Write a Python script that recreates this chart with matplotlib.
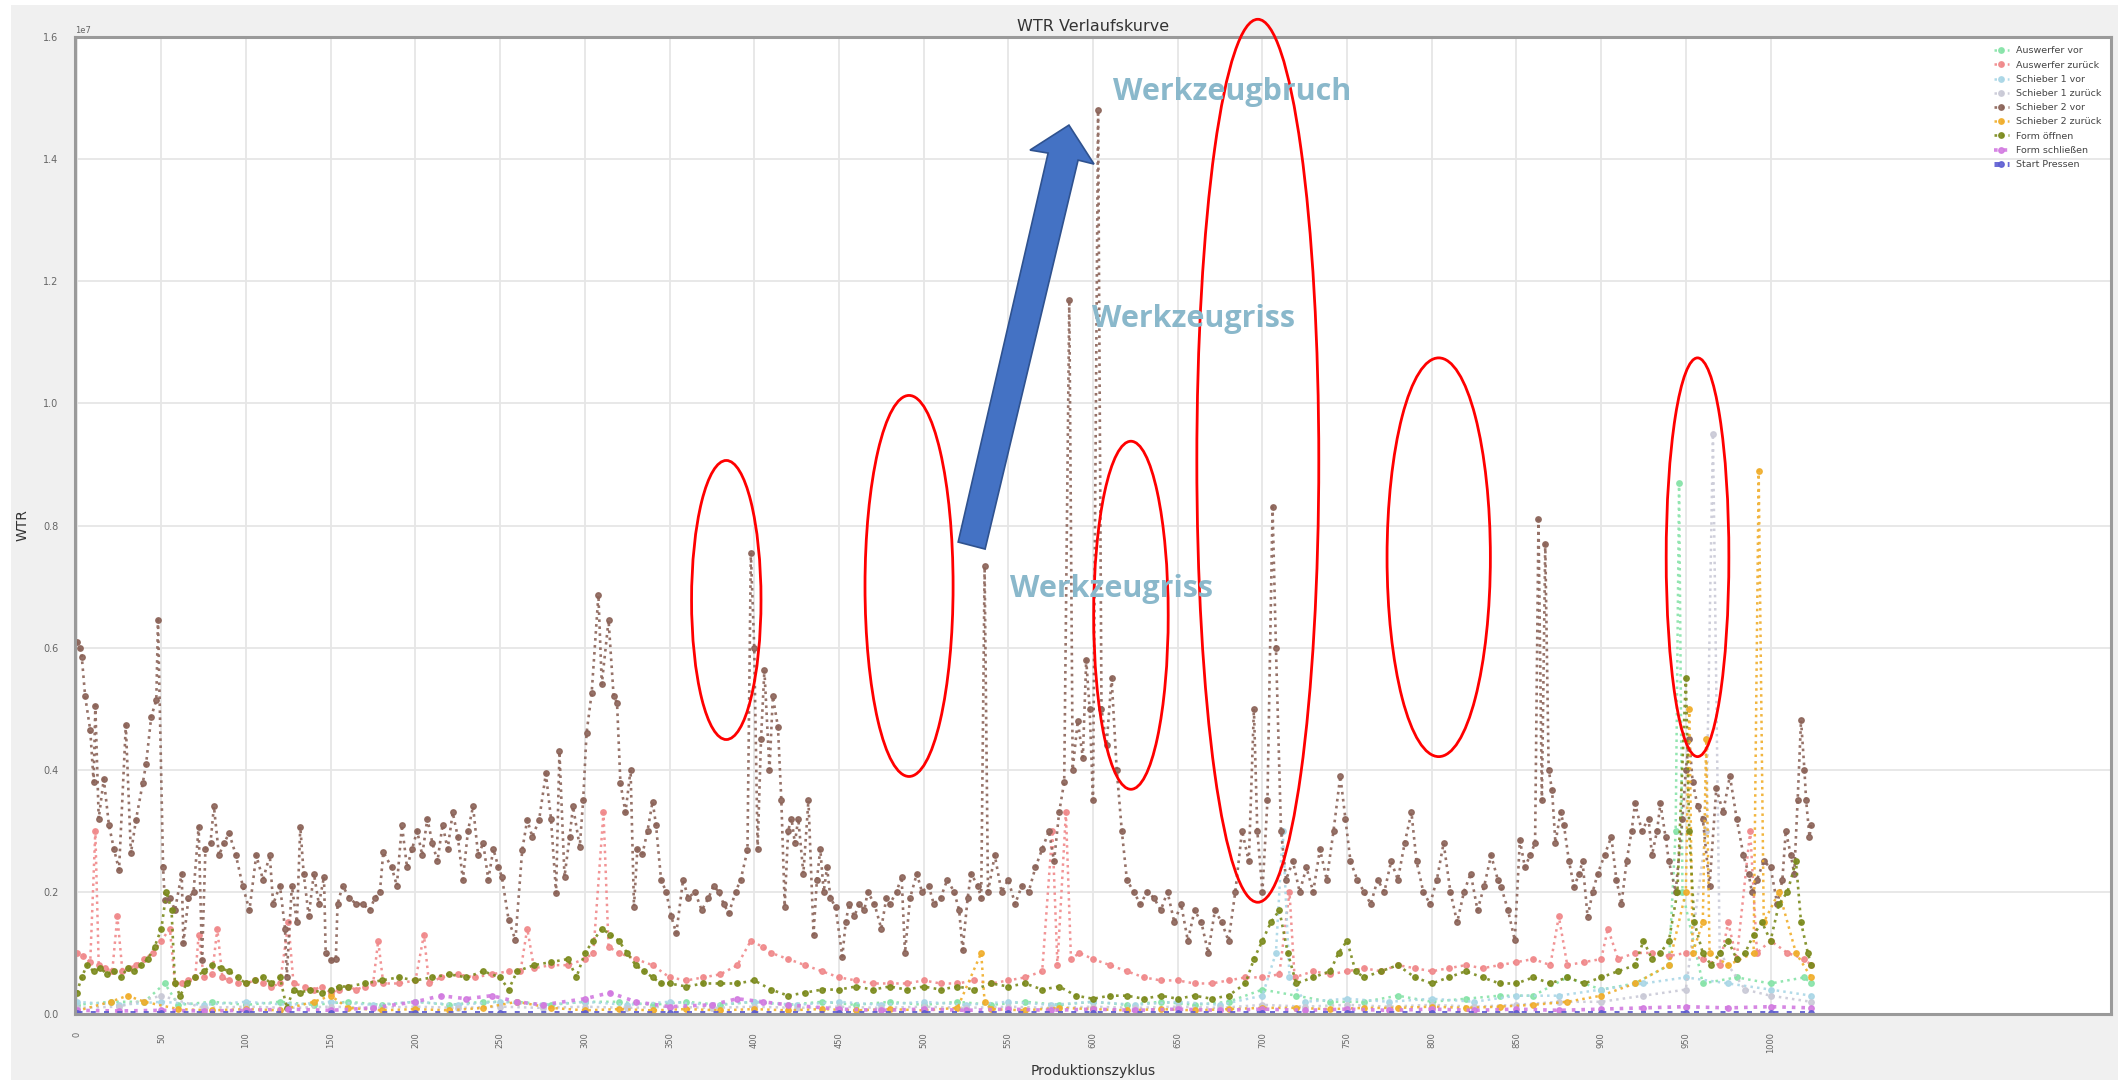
import numpy as np
import matplotlib
matplotlib.use("Agg")
import matplotlib.pyplot as plt
from matplotlib.patches import Ellipse, Polygon, Rectangle

# WTR values are given in units of 1e7
series_names = ["Auswerfer vor", "Auswerfer zurück", "Schieber 1 vor", "Schieber 1 zurück",
                "Schieber 2 vor", "Schieber 2 zurück", "Form öffnen", "Form schließen", "Start Pressen"]
series_colors = ["#86e3a8", "#f0888a", "#a9d6e6", "#c9c9d6",
                 "#8b6358", "#f0ad2a", "#7b8a1c", "#d27ae0", "#5c5cd2"]
series_lw = [1.8, 1.8, 1.8, 1.8, 1.9, 1.8, 1.9, 2.6, 3.6]

# Schieber 2 vor
s2v_cyc = [0, 2, 3, 5, 8, 10, 11, 13, 16, 19, 22, 25, 29, 32, 35, 39, 41, 44, 47, 48,
           51, 52, 55, 58, 62, 63, 66, 69, 72, 74, 76, 79, 81, 84, 87, 90, 94, 98, 102, 106,
           110, 114, 116, 120, 123, 124, 127, 130, 132, 134, 137, 140, 143, 146, 147, 150, 153, 154, 157, 161,
           165, 169, 173, 176, 179, 181, 186, 189, 192, 195, 198, 201, 204, 207, 210, 213, 216, 219, 222, 225,
           228, 231, 234, 237, 240, 243, 246, 249, 251, 255, 259, 263, 266, 269, 273, 277, 280, 283, 285, 288,
           291, 293, 297, 299, 301, 304, 308, 310, 314, 317, 319, 321, 324, 327, 329, 331, 334, 337, 340, 342,
           345, 348, 351, 354, 358, 361, 365, 369, 373, 376, 379, 382, 385, 389, 392, 396, 398, 400, 402, 404,
           406, 409, 411, 414, 416, 418, 420, 422, 424, 426, 429, 432, 435, 437, 439, 441, 443, 445, 448, 452,
           454, 456, 459, 462, 465, 467, 471, 475, 478, 480, 484, 487, 489, 492, 496, 499, 503, 506, 510, 514,
           518, 521, 523, 526, 528, 532, 534, 536, 538, 542, 546, 550, 554, 558, 562, 566, 570, 574, 577, 580,
           583, 586, 588, 591, 594, 596, 598, 600, 603, 605, 608, 611, 614, 617, 620, 624, 628, 632, 636, 640,
           644, 648, 652, 656, 660, 664, 668, 672, 676, 680, 684, 688, 692, 695, 697, 700, 703, 706, 708, 711,
           714, 718, 722, 726, 730, 734, 738, 742, 746, 749, 752, 756, 760, 764, 768, 772, 776, 780, 784, 788,
           791, 795, 799, 803, 807, 811, 815, 819, 823, 827, 831, 835, 839, 841, 845, 849, 852, 855, 858, 861,
           863, 865, 867, 869, 871, 873, 876, 878, 881, 884, 887, 889, 892, 895, 898, 902, 906, 909, 912, 915,
           918, 920, 924, 928, 930, 933, 935, 938, 940, 944, 948, 950, 952, 954, 957, 960, 964, 968, 972, 976,
           980, 984, 987, 989, 992, 996, 1000, 1004, 1007, 1009, 1012, 1014, 1016, 1018, 1020, 1021, 1023, 1024]
s2v_val = [0.61, 0.60, 0.585, 0.52, 0.465, 0.38, 0.505, 0.32, 0.385, 0.31, 0.27, 0.236, 0.473, 0.263, 0.318, 0.378, 0.41, 0.487, 0.514, 0.645,
           0.241, 0.187, 0.19, 0.17, 0.23, 0.116, 0.19, 0.20, 0.307, 0.088, 0.27, 0.28, 0.34, 0.26, 0.28, 0.296, 0.26, 0.21, 0.17, 0.26,
           0.22, 0.26, 0.18, 0.21, 0.14, 0.061, 0.21, 0.15, 0.307, 0.23, 0.16, 0.23, 0.18, 0.225, 0.10, 0.088, 0.09, 0.18, 0.21, 0.19,
           0.18, 0.18, 0.17, 0.19, 0.20, 0.265, 0.24, 0.21, 0.31, 0.24, 0.27, 0.30, 0.26, 0.32, 0.28, 0.25, 0.31, 0.27, 0.33, 0.29,
           0.22, 0.30, 0.34, 0.26, 0.28, 0.22, 0.27, 0.24, 0.225, 0.154, 0.121, 0.268, 0.318, 0.29, 0.318, 0.394, 0.32, 0.198, 0.43, 0.225,
           0.29, 0.34, 0.274, 0.35, 0.46, 0.525, 0.686, 0.54, 0.645, 0.52, 0.51, 0.378, 0.33, 0.40, 0.176, 0.27, 0.262, 0.30, 0.348, 0.31,
           0.22, 0.20, 0.16, 0.132, 0.22, 0.19, 0.20, 0.17, 0.19, 0.21, 0.20, 0.18, 0.165, 0.20, 0.22, 0.268, 0.755, 0.60, 0.27, 0.45,
           0.563, 0.40, 0.52, 0.47, 0.35, 0.176, 0.30, 0.32, 0.28, 0.32, 0.23, 0.35, 0.13, 0.22, 0.27, 0.20, 0.24, 0.19, 0.175, 0.094,
           0.15, 0.18, 0.16, 0.18, 0.17, 0.20, 0.18, 0.14, 0.19, 0.18, 0.20, 0.225, 0.10, 0.19, 0.23, 0.20, 0.21, 0.18, 0.19, 0.22,
           0.20, 0.17, 0.105, 0.19, 0.23, 0.21, 0.19, 0.733, 0.20, 0.26, 0.20, 0.22, 0.18, 0.21, 0.20, 0.24, 0.27, 0.30, 0.25, 0.33,
           0.38, 1.17, 0.40, 0.48, 0.42, 0.58, 0.50, 0.35, 1.48, 0.50, 0.44, 0.55, 0.40, 0.30, 0.22, 0.20, 0.18, 0.20, 0.19, 0.17,
           0.20, 0.15, 0.18, 0.12, 0.17, 0.15, 0.10, 0.17, 0.15, 0.12, 0.20, 0.30, 0.25, 0.50, 0.30, 0.20, 0.35, 0.83, 0.60, 0.30,
           0.22, 0.25, 0.20, 0.24, 0.20, 0.27, 0.22, 0.30, 0.39, 0.32, 0.25, 0.22, 0.20, 0.18, 0.22, 0.20, 0.25, 0.22, 0.28, 0.33,
           0.25, 0.20, 0.18, 0.22, 0.28, 0.20, 0.15, 0.20, 0.23, 0.17, 0.21, 0.26, 0.22, 0.208, 0.17, 0.121, 0.285, 0.24, 0.26, 0.28,
           0.81, 0.35, 0.77, 0.40, 0.367, 0.28, 0.33, 0.31, 0.25, 0.208, 0.23, 0.25, 0.159, 0.20, 0.23, 0.26, 0.29, 0.22, 0.18, 0.25,
           0.30, 0.345, 0.30, 0.32, 0.26, 0.30, 0.345, 0.29, 0.25, 0.20, 0.32, 0.40, 0.45, 0.38, 0.34, 0.32, 0.21, 0.37, 0.33, 0.39,
           0.32, 0.26, 0.23, 0.20, 0.22, 0.25, 0.24, 0.18, 0.22, 0.30, 0.26, 0.23, 0.35, 0.481, 0.40, 0.35, 0.29, 0.31]

# Auswerfer zurück
az_cyc = [0, 4, 8, 11, 13, 17, 21, 24, 27, 31, 35, 40, 45, 50, 55, 58, 62, 66, 70, 72,
          75, 80, 83, 86, 90, 95, 100, 105, 110, 115, 120, 125, 128, 135, 140, 145, 150, 155, 160, 165,
          170, 175, 178, 181, 190, 200, 205, 208, 215, 225, 235, 245, 255, 262, 266, 270, 280, 290, 300, 305,
          311, 314, 320, 330, 340, 350, 360, 370, 380, 390, 398, 405, 410, 420, 430, 440, 450, 460, 470, 480,
          490, 500, 510, 520, 530, 540, 550, 560, 570, 576, 579, 584, 587, 592, 600, 610, 620, 630, 640, 650,
          660, 670, 680, 690, 700, 710, 716, 719, 730, 740, 750, 760, 770, 780, 790, 800, 810, 820, 830, 840,
          850, 860, 870, 875, 880, 890, 900, 904, 910, 920, 930, 940, 950, 960, 970, 975, 980, 988, 992, 1000,
          1010, 1020, 1024]
az_val = [0.10, 0.095, 0.085, 0.30, 0.08, 0.075, 0.07, 0.16, 0.07, 0.075, 0.08, 0.09, 0.10, 0.12, 0.14, 0.05, 0.05, 0.055, 0.06, 0.13,
          0.06, 0.065, 0.14, 0.06, 0.055, 0.05, 0.05, 0.055, 0.05, 0.045, 0.05, 0.15, 0.05, 0.045, 0.04, 0.045, 0.035, 0.04, 0.045, 0.04,
          0.045, 0.05, 0.12, 0.05, 0.05, 0.055, 0.13, 0.05, 0.06, 0.065, 0.06, 0.065, 0.07, 0.07, 0.14, 0.075, 0.08, 0.08, 0.09, 0.10,
          0.33, 0.11, 0.10, 0.09, 0.08, 0.06, 0.055, 0.06, 0.065, 0.08, 0.12, 0.11, 0.10, 0.09, 0.08, 0.07, 0.06, 0.055, 0.05, 0.05,
          0.05, 0.055, 0.05, 0.05, 0.055, 0.05, 0.055, 0.06, 0.07, 0.30, 0.08, 0.33, 0.09, 0.10, 0.09, 0.08, 0.07, 0.06, 0.055, 0.055,
          0.05, 0.05, 0.055, 0.06, 0.06, 0.065, 0.20, 0.06, 0.07, 0.065, 0.07, 0.075, 0.07, 0.08, 0.075, 0.07, 0.075, 0.08, 0.075, 0.08,
          0.085, 0.09, 0.08, 0.16, 0.08, 0.085, 0.09, 0.14, 0.09, 0.10, 0.10, 0.095, 0.10, 0.09, 0.08, 0.15, 0.09, 0.30, 0.10, 0.12,
          0.10, 0.09, 0.08]

# Form öffnen
fo_cyc = [0, 3, 6, 10, 14, 18, 22, 26, 30, 34, 38, 42, 46, 50, 53, 56, 58, 61, 65, 70,
          75, 80, 85, 90, 95, 100, 105, 110, 115, 120, 124, 128, 132, 138, 145, 150, 155, 160, 170, 180,
          190, 200, 210, 220, 230, 240, 250, 255, 260, 270, 280, 290, 295, 300, 305, 310, 315, 320, 325, 330,
          335, 340, 345, 350, 360, 370, 380, 390, 400, 410, 420, 430, 440, 450, 460, 470, 480, 490, 500, 510,
          520, 530, 540, 550, 560, 570, 580, 590, 600, 610, 620, 630, 640, 650, 660, 670, 680, 690, 695, 700,
          705, 710, 715, 720, 730, 740, 745, 750, 755, 760, 770, 780, 790, 800, 810, 820, 830, 840, 850, 860,
          870, 880, 890, 900, 910, 920, 925, 930, 935, 940, 945, 950, 952, 955, 960, 965, 970, 975, 980, 985,
          990, 995, 1000, 1005, 1010, 1015, 1018, 1022, 1024]
fo_val = [0.035, 0.06, 0.08, 0.07, 0.075, 0.065, 0.07, 0.06, 0.075, 0.07, 0.08, 0.09, 0.11, 0.14, 0.20, 0.17, 0.05, 0.03, 0.05, 0.06,
          0.07, 0.08, 0.075, 0.07, 0.06, 0.05, 0.055, 0.06, 0.05, 0.06, 0.01, 0.04, 0.035, 0.04, 0.035, 0.04, 0.045, 0.045, 0.05, 0.055,
          0.06, 0.055, 0.06, 0.065, 0.06, 0.07, 0.06, 0.04, 0.07, 0.08, 0.085, 0.09, 0.06, 0.10, 0.12, 0.14, 0.13, 0.12, 0.10, 0.08,
          0.07, 0.06, 0.05, 0.05, 0.045, 0.05, 0.05, 0.05, 0.055, 0.04, 0.03, 0.035, 0.04, 0.04, 0.045, 0.04, 0.045, 0.04, 0.045, 0.04,
          0.045, 0.04, 0.05, 0.045, 0.05, 0.04, 0.045, 0.03, 0.025, 0.03, 0.03, 0.025, 0.03, 0.025, 0.03, 0.025, 0.03, 0.05, 0.09, 0.12,
          0.15, 0.17, 0.10, 0.05, 0.06, 0.07, 0.10, 0.12, 0.07, 0.06, 0.07, 0.08, 0.06, 0.05, 0.06, 0.07, 0.06, 0.05, 0.05, 0.06,
          0.05, 0.06, 0.05, 0.06, 0.07, 0.08, 0.12, 0.09, 0.10, 0.12, 0.20, 0.55, 0.30, 0.15, 0.10, 0.08, 0.10, 0.12, 0.09, 0.10,
          0.13, 0.15, 0.12, 0.18, 0.20, 0.25, 0.15, 0.10, 0.08]

# Sparser low-level channels
av_cyc = [0, 20, 40, 52, 60, 80, 100, 120, 140, 160, 180, 200, 220, 240, 260, 280, 300, 320, 340, 360,
          380, 400, 420, 440, 460, 480, 500, 520, 540, 560, 580, 600, 620, 640, 660, 680, 700, 720, 740, 760,
          780, 800, 820, 840, 860, 880, 900, 920, 940, 944, 946, 948, 960, 980, 1000, 1020, 1024]
av_val = [0.015, 0.02, 0.02, 0.05, 0.015, 0.02, 0.015, 0.02, 0.015, 0.02, 0.015, 0.02, 0.015, 0.02, 0.02, 0.015, 0.02, 0.02, 0.015, 0.02,
          0.015, 0.02, 0.015, 0.02, 0.015, 0.02, 0.015, 0.02, 0.015, 0.02, 0.015, 0.02, 0.015, 0.02, 0.015, 0.02, 0.04, 0.03, 0.02, 0.02,
          0.03, 0.02, 0.025, 0.03, 0.03, 0.06, 0.04, 0.05, 0.08, 0.30, 0.87, 0.20, 0.05, 0.06, 0.05, 0.06, 0.05]

s1v_cyc = [0, 25, 50, 75, 100, 125, 150, 175, 200, 225, 250, 275, 300, 325, 350, 375, 400, 425, 450, 475,
           500, 525, 550, 575, 600, 625, 650, 675, 700, 708, 712, 716, 725, 750, 775, 800, 825, 850, 875, 900,
           925, 950, 975, 1000, 1024]
s1v_val = [0.02, 0.015, 0.02, 0.015, 0.02, 0.015, 0.02, 0.015, 0.02, 0.015, 0.02, 0.015, 0.02, 0.015, 0.02, 0.015, 0.02, 0.015, 0.02, 0.015,
           0.02, 0.015, 0.02, 0.015, 0.02, 0.015, 0.02, 0.015, 0.03, 0.10, 0.30, 0.06, 0.02, 0.025, 0.02, 0.025, 0.02, 0.03, 0.03, 0.04,
           0.05, 0.06, 0.05, 0.04, 0.03]

s1z_cyc = [0, 25, 50, 75, 100, 125, 150, 175, 200, 225, 250, 275, 300, 325, 350, 375, 400, 425, 450, 475,
           500, 525, 550, 575, 600, 625, 650, 675, 700, 725, 750, 775, 800, 825, 850, 875, 900, 925, 950, 962,
           966, 970, 985, 1000, 1024]
s1z_val = [0.01, 0.012, 0.03, 0.01, 0.012, 0.01, 0.012, 0.01, 0.012, 0.01, 0.012, 0.01, 0.012, 0.01, 0.012, 0.01, 0.012, 0.01, 0.012, 0.01,
           0.012, 0.01, 0.012, 0.01, 0.012, 0.01, 0.012, 0.01, 0.015, 0.012, 0.015, 0.012, 0.015, 0.012, 0.015, 0.02, 0.02, 0.03, 0.04, 0.30,
           0.95, 0.10, 0.04, 0.03, 0.02]

s2z_cyc = [0, 20, 30, 40, 60, 80, 100, 120, 140, 150, 160, 180, 200, 220, 240, 260, 280, 300, 320, 340,
           360, 380, 400, 420, 440, 460, 480, 500, 520, 534, 536, 540, 560, 580, 600, 620, 640, 660, 680, 700,
           720, 740, 760, 780, 800, 820, 840, 860, 880, 900, 920, 940, 950, 952, 954, 960, 962, 964, 975, 990,
           993, 996, 1005, 1015, 1024]
s2z_val = [0.005, 0.02, 0.03, 0.02, 0.008, 0.006, 0.008, 0.006, 0.02, 0.03, 0.01, 0.006, 0.008, 0.006, 0.01, 0.02, 0.01, 0.006, 0.008, 0.006,
           0.008, 0.006, 0.008, 0.006, 0.008, 0.006, 0.008, 0.006, 0.01, 0.10, 0.02, 0.008, 0.006, 0.01, 0.008, 0.006, 0.008, 0.006, 0.008, 0.01,
           0.01, 0.008, 0.01, 0.01, 0.012, 0.01, 0.012, 0.015, 0.02, 0.03, 0.05, 0.08, 0.20, 0.50, 0.10, 0.15, 0.45, 0.10, 0.08, 0.10,
           0.89, 0.15, 0.20, 0.10, 0.06]

fs_cyc = [0, 25, 50, 75, 100, 125, 150, 175, 200, 215, 230, 245, 260, 275, 300, 315, 330, 350, 375, 390,
          405, 420, 450, 475, 500, 525, 550, 575, 600, 625, 650, 675, 700, 725, 750, 775, 800, 825, 850, 875,
          900, 925, 950, 975, 1000, 1024]
fs_val = [0.006, 0.005, 0.006, 0.005, 0.006, 0.008, 0.006, 0.01, 0.02, 0.03, 0.025, 0.03, 0.02, 0.015, 0.025, 0.035, 0.02, 0.012, 0.015, 0.025,
          0.02, 0.015, 0.008, 0.006, 0.008, 0.006, 0.008, 0.006, 0.008, 0.006, 0.008, 0.006, 0.008, 0.006, 0.008, 0.006, 0.008, 0.006, 0.008, 0.006,
          0.008, 0.01, 0.012, 0.01, 0.012, 0.01]

sp_cyc = [0, 50, 100, 150, 200, 250, 300, 350, 400, 450, 500, 550, 600, 650, 700, 750, 800, 850, 900, 950,
          1000, 1024]
sp_val = [0.002, 0.002, 0.002, 0.002, 0.002, 0.002, 0.002, 0.002, 0.002, 0.002, 0.002, 0.002, 0.002, 0.002, 0.002, 0.002, 0.002, 0.002, 0.002, 0.002,
          0.002, 0.002]

all_series = [(av_cyc, av_val), (az_cyc, az_val), (s1v_cyc, s1v_val), (s1z_cyc, s1z_val),
              (s2v_cyc, s2v_val), (s2z_cyc, s2z_val), (fo_cyc, fo_val), (fs_cyc, fs_val), (sp_cyc, sp_val)]

# marked regions: (cycle, WTR/1e7, width in cycles, height in 1e7)
ellipses = [(383.5, 0.678, 41, 0.457), (491.4, 0.701, 52, 0.624), (622.4, 0.653, 44, 0.570),
            (697.3, 0.906, 72, 1.446), (804.1, 0.748, 61, 0.653), (956.9, 0.748, 37, 0.653)]
labels = [("Werkzeugbruch", 612, 1.497), ("Werkzeugriss", 599.5, 1.125), ("Werkzeugriss", 551, 0.683)]
arrow_x = [520.4, 573.5, 562.8, 585.8, 600.6, 591.2, 536.3]
arrow_y = [0.7729, 1.4099, 1.4148, 1.4557, 1.3919, 1.3984, 0.7614]

fig = plt.figure(figsize=(21.26, 10.86), dpi=100, facecolor="white")
fig.patches.append(Rectangle((11 / 2126, 6 / 1086), 2107 / 2126, 1075 / 1086,
                             transform=fig.transFigure, facecolor="#f0f0f0", edgecolor="none", zorder=-10))
ax = fig.add_axes([75 / 2126, 72 / 1086, 2036 / 2126, 977 / 1086])
ax.set_facecolor("white")

for (cyc, val), name, col, lw in zip(all_series, series_names, series_colors, series_lw):
    ax.plot(cyc, np.array(val) * 1e7, linestyle=":", linewidth=lw, marker="o", markersize=3.9,
            color=col, label=name, alpha=0.9)

ax.set_xlim(-1, 1201)
ax.set_ylim(0, 1.6e7)
ax.set_xticks(np.arange(0, 1001, 50))
ax.set_yticks(np.arange(0, 1.61e7, 0.2e7))
ax.grid(True, color="#e6e6e6", linewidth=1.3)
ax.set_axisbelow(True)
ax.tick_params(axis="x", labelrotation=90, labelsize=6, colors="#666666", length=0, pad=13)
ax.tick_params(axis="y", labelsize=7, colors="#666666", length=0, pad=12)
ax.yaxis.get_offset_text().set_fontsize(6)
ax.yaxis.get_offset_text().set_color("#666666")
for sp in ax.spines.values():
    sp.set_color("#9a9a9a")
    sp.set_linewidth(2.2)

ax.set_title("WTR Verlaufskurve", fontsize=11.5, color="#333333", pad=4)
ax.set_xlabel("Produktionszyklus", fontsize=10, color="#333333", labelpad=8)
ax.set_ylabel("WTR", fontsize=10, color="#333333", labelpad=10)

leg = ax.legend(loc="upper right", fontsize=6.8, frameon=False, handlelength=1.6,
                borderaxespad=0.6, labelspacing=0.55)
for t in leg.get_texts():
    t.set_color("#444444")

for cx, cy, w, h in ellipses:
    ax.add_patch(Ellipse((cx, cy * 1e7), w, h * 1e7, fill=False, edgecolor="#ff0000",
                         linewidth=2.0, clip_on=False, zorder=20))

ax.add_patch(Polygon(list(zip(arrow_x, np.array(arrow_y) * 1e7)), closed=True, facecolor="#4472c4",
                     edgecolor="#2f528f", linewidth=1.2, clip_on=False, zorder=21))

for text, tx, ty in labels:
    ax.text(tx, ty * 1e7, text, fontsize=22, fontweight="bold", color="#8ab8cb",
            family="Open Sans", ha="left", va="baseline", zorder=22, clip_on=False)

fig.savefig("out.png", dpi=100, facecolor=fig.get_facecolor())
